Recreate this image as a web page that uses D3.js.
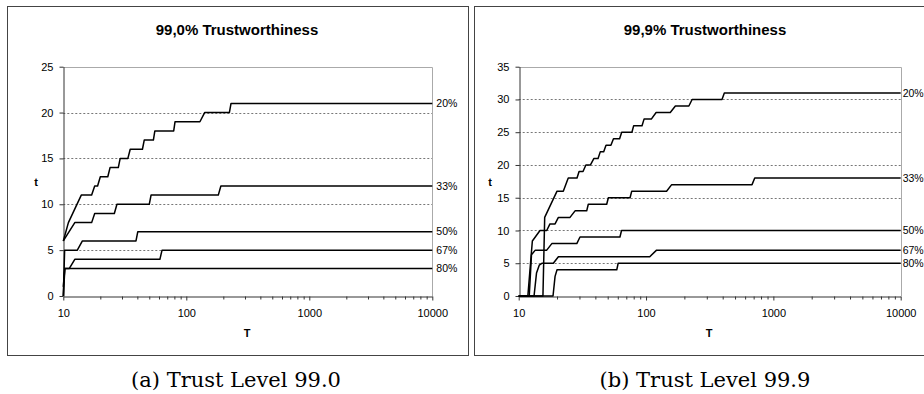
<!DOCTYPE html>
<html>
<head>
<meta charset="utf-8">
<script src="https://cdn.jsdelivr.net/npm/d3@7"></script>
<style>
  body { margin: 0; background: #fff; }
  svg text { font-family: "Liberation Sans", Arial, sans-serif; fill: #000; }
  .caption { font-family: "DejaVu Serif", serif; }
</style>
</head>
<body>
<svg id="chart" width="924" height="394"></svg>
<script>
// ---------------------------------------------------------------------------
// Data — [T, t] break points per series
// ---------------------------------------------------------------------------
const seriesLabels = ["20%", "33%", "50%", "67%", "80%"];
const xTickValues = [10, 100, 1000, 10000];
const yTicksA = [0, 5, 10, 15, 20, 25];
const yTicksB = [0, 5, 10, 15, 20, 25, 30, 35];
const titles = ["99,0% Trustworthiness", "99,9% Trustworthiness"];
const captions = ["(a) Trust Level 99.0", "(b) Trust Level 99.9"];

// 99.0% trustworthiness
const a20 = [[10,6],[11,8],[14,11],[17,11],[18,12],[19,12],[20,13],[23,13],[24,14],[28,14],[29,15],[33.5,15],[35,16],[44,16],[45.5,17],[54,17],[55.5,18],[79,18],[81,19],[129,19],[141,20],[224,20],[231,21],[10000,21]];
const a33 = [[10,6],[12.4,8],[17,8],[18,9],[26,9],[27.3,10],[50,10],[51.7,11],[182,11],[191,12],[10000,12]];
const a50 = [[10,0],[10.25,5],[13,5],[14.3,6],[39,6],[40.3,7],[10000,7]];
const a67 = [[10,1],[10.3,3],[11.2,3],[12.4,4],[61,4],[63.5,5],[10000,5]];
const a80 = [[10,0],[10.3,3],[10000,3]];

// 99.9% trustworthiness
const b20 = [[10,0],[15.5,0],[16,12],[20,16],[22.4,16],[24.5,18],[28.7,18],[29.8,19],[32,19],[33.7,20],[36.6,20],[39,21],[42,21],[43.7,22],[46.5,22],[48.5,23],[53,23],[55.5,24],[62,24],[64.4,25],[77.5,25],[80,26],[93,26],[96.5,27],[110,27],[120,28],[155,28],[170,29],[217,29],[230,30],[395,30],[412,31],[10000,31]];
const b33 = [[10,0],[11.8,0],[12.8,8.4],[14.7,10],[16.6,10],[17.6,11],[19.3,11],[20.5,12],[25.3,12],[27.7,13],[34.2,13],[35.2,14],[49.1,14],[50.6,15],[74.9,15],[77.2,16],[145,16],[159,17],[680,17],[714,18],[10000,18]];
const b50 = [[10,0],[12.1,0],[12.6,6.3],[13.5,7],[16.6,7],[18.2,8],[28.6,8],[30.3,9],[62.4,9],[64.2,10],[10000,10]];
const b67 = [[10,0],[13.2,0],[13.8,3.5],[14.5,4.7],[15.3,5],[18.7,5],[20.5,6],[107,6],[121,7],[10000,7]];
const b80 = [[10,0],[18.6,0],[19.3,3],[20,4],[58.9,4],[60.4,5],[10000,5]];

// ---------------------------------------------------------------------------
// Layout
// ---------------------------------------------------------------------------
const panels = [
  { frame: [7, 6, 468, 355], left: 63.3, right: 432.3, top: 66.7, bottom: 296,
    titleX: 237, yLabelX: 36, xLabelX: 247, captionX: 236, labelDx: 4,
    yTicks: yTicksA, series: [a20, a33, a50, a67, a80],
    title: titles[0], caption: captions[0] },
  { frame: [474, 6, 930, 355], left: 518.7, right: 900.7, top: 66.7, bottom: 296,
    titleX: 705, yLabelX: 490, xLabelX: 709, captionX: 705, labelDx: 2,
    yTicks: yTicksB, series: [b20, b33, b50, b67, b80],
    title: titles[1], caption: captions[1] }
];

const svg = d3.select("#chart");

function drawPanel(cfg) {
  const g = svg.append("g");
  const [fx0, fy0, fx1, fy1] = cfg.frame;

  // outer frame
  g.append("rect")
    .attr("x", fx0 + 0.5).attr("y", fy0 + 0.5)
    .attr("width", fx1 - fx0).attr("height", fy1 - fy0)
    .attr("fill", "none").attr("stroke", "#444").attr("stroke-width", 1);

  const x = d3.scaleLog().domain([10, 10000]).range([cfg.left, cfg.right]);
  const y = d3.scaleLinear().domain([0, d3.max(cfg.yTicks)]).range([cfg.bottom, cfg.top]);

  // dotted gridlines
  g.append("g").selectAll("line")
    .data(cfg.yTicks.slice(1, -1))
    .join("line")
    .attr("x1", cfg.left).attr("x2", cfg.right)
    .attr("y1", d => Math.round(y(d)) + 0.5).attr("y2", d => Math.round(y(d)) + 0.5)
    .attr("stroke", "#777").attr("stroke-width", 1)
    .attr("stroke-dasharray", "2,2");

  // plot area border (top and right)
  g.append("path")
    .attr("d", `M${cfg.left},${Math.round(cfg.top) + 0.5}H${Math.round(cfg.right) + 0.5}V${cfg.bottom}`)
    .attr("fill", "none").attr("stroke", "#aaa").attr("stroke-width", 1);

  // axes
  const yAxis = g.append("g")
    .attr("transform", `translate(${Math.round(cfg.left) + 0.5},0)`)
    .call(d3.axisLeft(y).tickValues(cfg.yTicks).tickSize(4).tickSizeOuter(0).tickPadding(6));

  const minorTicks = x.ticks().filter(v => !xTickValues.includes(v));
  const xMinor = g.append("g")
    .attr("transform", `translate(0,${Math.round(cfg.bottom) + 0.5})`)
    .call(d3.axisBottom(x).tickValues(minorTicks).tickSize(3).tickSizeOuter(0).tickFormat(""));
  const xAxis = g.append("g")
    .attr("transform", `translate(0,${Math.round(cfg.bottom) + 0.5})`)
    .call(d3.axisBottom(x).tickValues(xTickValues).tickSize(4).tickSizeOuter(0).tickPadding(9).tickFormat(d3.format("d")));

  [yAxis, xAxis, xMinor].forEach(ax => {
    ax.select(".domain").attr("stroke", "#333");
    ax.selectAll(".tick line").attr("stroke", "#333");
    ax.selectAll("text").attr("font-size", 11).attr("font-family", null);
  });
  xMinor.select(".domain").remove();

  // series
  const line = d3.line().x(d => x(d[0])).y(d => y(d[1]));
  g.append("g").selectAll("path")
    .data(cfg.series)
    .join("path")
    .attr("d", line)
    .attr("fill", "none")
    .attr("stroke", "#000")
    .attr("stroke-width", 1.5)
    .attr("stroke-linejoin", "round");

  // end labels
  g.append("g").selectAll("text")
    .data(cfg.series)
    .join("text")
    .attr("x", cfg.right + cfg.labelDx)
    .attr("y", d => y(d[d.length - 1][1]))
    .attr("dy", "0.35em")
    .attr("font-size", 10.5)
    .text((d, i) => seriesLabels[i]);

  // titles
  g.append("text")
    .attr("x", cfg.titleX).attr("y", 35)
    .attr("text-anchor", "middle")
    .attr("font-size", 15).attr("font-weight", "bold")
    .text(cfg.title);

  g.append("text")
    .attr("x", cfg.yLabelX).attr("y", 186)
    .attr("text-anchor", "middle")
    .attr("font-size", 11).attr("font-weight", "bold")
    .text("t");

  g.append("text")
    .attr("x", cfg.xLabelX).attr("y", 337)
    .attr("text-anchor", "middle")
    .attr("font-size", 11).attr("font-weight", "bold")
    .text("T");

  g.append("text")
    .attr("class", "caption")
    .attr("x", cfg.captionX).attr("y", 387)
    .attr("text-anchor", "middle")
    .attr("font-size", 21)
    .text(cfg.caption);
}

panels.forEach(drawPanel);
</script>
</body>
</html>
